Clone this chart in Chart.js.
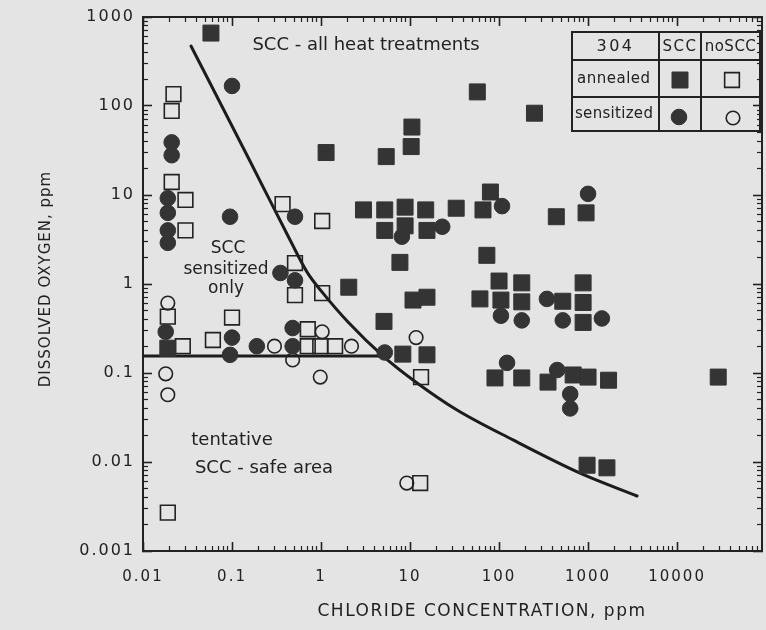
<!DOCTYPE html>
<html>
<head>
<meta charset="utf-8">
<title>Dissolved oxygen vs chloride - type 304 SCC</title>
<script src="https://cdn.jsdelivr.net/npm/chart.js@4/dist/chart.umd.min.js"></script>
<style>
  html, body { margin: 0; padding: 0; background: #e4e4e4; }
  canvas { display: block; }
</style>
</head>
<body>
<canvas id="chart" width="766" height="630"></canvas>
<script>
// ---- Specimen results: chloride (ppm) and dissolved oxygen (ppm) ----
// Annealed, cracked (SCC)
const annealedSccCl = [0.058, 1.14, 10.5, 10.3, 5.4, 57, 250, 3.0, 5.2, 8.8, 8.8, 15, 33, 66, 80, 5.2, 15.5,
  7.7, 73, 2.05, 10.8, 15.5, 5.1, 100, 180, 880, 61, 105, 180, 520, 880, 880, 0.019, 8.3, 15.5,
  90, 180, 355, 680, 1000, 1700, 29000, 975, 1630, 950, 440];
const annealedSccO2 = [660, 30, 58, 35, 27, 144, 83, 6.8, 6.8, 7.3, 4.5, 6.8, 7.1, 6.8, 10.8, 4.0, 4.0,
  1.75, 2.1, 0.92, 0.66, 0.71, 0.38, 1.08, 1.03, 1.03, 0.68, 0.66, 0.63, 0.64, 0.62, 0.37, 0.19, 0.163, 0.16,
  0.088, 0.088, 0.079, 0.095, 0.09, 0.083, 0.09, 0.0092, 0.0086, 6.3, 5.7];

// Sensitized, cracked (SCC)
const sensitizedSccCl = [0.1, 0.021, 0.021, 0.019, 0.019, 0.019, 0.019, 0.095, 0.51, 0.35, 0.51, 0.018,
  0.1, 0.095, 0.19, 0.48, 0.48, 5.2, 23, 8.1, 108, 1000, 345, 105, 180, 520, 1430, 123, 450, 630, 630];
const sensitizedSccO2 = [168, 39, 28, 9.2, 6.3, 4.0, 2.9, 5.7, 5.7, 1.33, 1.1, 0.29,
  0.25, 0.16, 0.2, 0.32, 0.2, 0.17, 4.4, 3.4, 7.5, 10.3, 0.68, 0.44, 0.39, 0.39, 0.41, 0.13, 0.108, 0.058, 0.04];

// Annealed, no cracking
const annealedNoSccCl = [0.022, 0.021, 0.021, 0.03, 0.03, 0.37, 1.03, 0.51, 0.51, 1.03, 0.019, 0.028,
  0.061, 0.1, 0.71, 0.71, 0.98, 1.44, 13.3, 13, 0.019];
const annealedNoSccO2 = [136, 88, 14, 8.8, 4.0, 7.9, 5.1, 1.72, 0.75, 0.79, 0.43, 0.2,
  0.235, 0.42, 0.31, 0.2, 0.2, 0.2, 0.09, 0.0058, 0.0027];

// Sensitized, no cracking
const sensitizedNoSccCl = [0.019, 0.018, 0.019, 0.3, 1.03, 2.2, 0.48, 0.98, 11.7, 9.2];
const sensitizedNoSccO2 = [0.61, 0.098, 0.057, 0.2, 0.29, 0.2, 0.14, 0.09, 0.25, 0.0058];

// Boundary of the "SCC - all heat treatments" region
const boundaryCurveCl = [0.0346, 0.159, 0.449, 0.697, 1.03, 2.01, 4.98, 12.0, 33.7, 143.5, 813, 3556];
const boundaryCurveO2 = [472, 24.1, 3.12, 1.36, 0.81, 0.374, 0.155, 0.0773, 0.0384, 0.0177, 0.0075, 0.00415];

// Upper limit of the tentative SCC-safe area
const safeLimitCl = [0.01, 4.98];
const safeLimitO2 = [0.155, 0.155];

// ---- Axes ----
const X_RANGE = [0.01, 90000];
const Y_RANGE = [0.001, 1000];
const X_TICK_VALUES = [0.01, 0.1, 1, 10, 100, 1000, 10000];
const X_TICK_LABELS = ['0.01', '0.1', '1', '10', '100', '1000', '10000'];
const Y_TICK_VALUES = [0.001, 0.01, 0.1, 1, 10, 100, 1000];
const Y_TICK_LABELS = ['0.001', '0.01', '0.1', '1', '10', '100', '1000'];
const X_TITLE = 'CHLORIDE CONCENTRATION, ppm';
const Y_TITLE = 'DISSOLVED OXYGEN, ppm';

// ---- Region notes and key table ----
const NOTE_ALL = 'SCC - all heat treatments';
const NOTE_SENSITIZED = ['SCC', 'sensitized', 'only'];
const NOTE_SAFE = ['tentative', 'SCC - safe area'];
const KEY_HEAD = ['304', 'SCC', 'noSCC'];
const KEY_ROWS = ['annealed', 'sensitized'];

// ---- Styling ----
const BG = '#e4e4e4';
const INK = '#222222';
const FILL = '#343434';
const FONT = 'DejaVu Sans';

const MARK = {
  annealedScc: { pointStyle: 'rect', radius: 11.3, backgroundColor: FILL, borderColor: FILL, borderWidth: 1 },
  sensitizedScc: { pointStyle: 'circle', radius: 7.8, backgroundColor: FILL, borderColor: FILL, borderWidth: 1 },
  annealedNoScc: { pointStyle: 'rect', radius: 10.4, backgroundColor: 'rgba(0,0,0,0)', borderColor: INK, borderWidth: 1.6 },
  sensitizedNoScc: { pointStyle: 'circle', radius: 6.8, backgroundColor: 'rgba(0,0,0,0)', borderColor: INK, borderWidth: 1.6 }
};

const zip = (xs, ys) => xs.map((x, i) => ({ x, y: ys[i] }));

function markerSet(label, xs, ys, m) {
  return {
    label,
    data: zip(xs, ys),
    pointStyle: m.pointStyle,
    pointRadius: m.radius,
    pointHoverRadius: m.radius,
    pointBackgroundColor: m.backgroundColor,
    pointBorderColor: m.borderColor,
    pointBorderWidth: m.borderWidth,
    showLine: false,
    order: 0
  };
}

function lineSet(label, xs, ys, smooth) {
  return {
    label,
    data: zip(xs, ys),
    showLine: true,
    borderColor: '#1c1c1c',
    borderWidth: 3,
    borderCapStyle: 'round',
    pointRadius: 0,
    pointHoverRadius: 0,
    fill: false,
    cubicInterpolationMode: smooth ? 'monotone' : 'default',
    tension: 0,
    order: 2
  };
}

// Minor log ticks (2..9 in every decade of the range)
function minorTicks(min, max) {
  const out = [];
  for (let e = Math.floor(Math.log10(min)); e <= Math.ceil(Math.log10(max)); e++) {
    for (let s = 2; s <= 9; s++) {
      const v = Number((s * Math.pow(10, e)).toPrecision(6));
      if (v > min && v < max) out.push(v);
    }
  }
  return out;
}

// Builds one logarithmic axis; the major axes carry decade ticks (and labels on bottom/left),
// the minor ones only short tick marks. Tick marks point into the plot.
function logAxis(axis, position, range, major, labels, fontSize, labelPad) {
  const horizontal = axis === 'x';
  const values = major ? (horizontal ? X_TICK_VALUES : Y_TICK_VALUES) : minorTicks(range[0], range[1]);
  const showLabels = major && (position === 'bottom' || position === 'left');
  return {
    type: 'logarithmic',
    axis,
    position,
    weight: major ? 0 : -1,
    min: range[0],
    max: range[1],
    afterBuildTicks: (scale) => {
      scale.ticks = values.map(v => ({ value: v, major }));
    },
    afterFit: (scale) => {
      if (horizontal) scale.height = showLabels ? 79 : 0;
      else scale.width = showLabels ? 143 : 0;
      // the frame is placed by the layout padding alone
      scale.paddingTop = 0;
      scale.paddingBottom = 0;
      scale.paddingLeft = 0;
      scale.paddingRight = 0;
    },
    ticks: {
      display: showLabels,
      autoSkip: false,
      maxRotation: 0,
      minRotation: 0,
      padding: labelPad || 0,
      color: INK,
      font: { family: FONT, size: fontSize || 15 },
      callback: (v) => {
        const i = (horizontal ? X_TICK_VALUES : Y_TICK_VALUES).indexOf(v);
        return i >= 0 && labels ? labels[i] : '';
      }
    },
    grid: {
      display: true,
      drawOnChartArea: false,
      drawTicks: true,
      tickLength: major ? -9 : -5,
      tickWidth: major ? 1.6 : 1.2,
      tickColor: INK
    },
    border: { display: true, color: INK, width: 2 }
  };
}

function drawText(ctx, str, x, y, size, spacing, align, angle) {
  ctx.save();
  ctx.translate(x, y);
  if (angle) ctx.rotate(angle);
  ctx.font = size + 'px "' + FONT + '"';
  ctx.letterSpacing = (spacing || 0) + 'px';
  ctx.fillStyle = INK;
  ctx.textAlign = align || 'center';
  ctx.textBaseline = 'middle';
  ctx.fillText(str, 0, 0);
  ctx.restore();
}

function drawMark(ctx, m, x, y) {
  ctx.save();
  ctx.fillStyle = m.backgroundColor;
  ctx.strokeStyle = m.borderColor;
  ctx.lineWidth = m.borderWidth;
  Chart.helpers.drawPoint(ctx, { pointStyle: m.pointStyle, radius: m.radius, rotation: 0, borderWidth: m.borderWidth }, x, y);
  ctx.restore();
}

const decorations = {
  id: 'decorations',
  beforeDraw(chart) {
    const ctx = chart.ctx;
    ctx.save();
    ctx.fillStyle = BG;
    ctx.fillRect(0, 0, chart.width, chart.height);
    ctx.restore();
    // wide lettering for the axis numbers
    ctx.letterSpacing = '2px';
  },
  beforeDatasetsDraw(chart) {
    chart.ctx.letterSpacing = '0px';
  },
  afterDraw(chart) {
    const ctx = chart.ctx;
    const a = chart.chartArea;

    // axis titles
    drawText(ctx, X_TITLE, 482, 612, 17, 1.5, 'center', 0);
    drawText(ctx, Y_TITLE, 46, 279, 15, 1, 'center', -Math.PI / 2);

    // region notes
    drawText(ctx, NOTE_ALL, 366, 45, 18, 0);
    drawText(ctx, NOTE_SENSITIZED[0], 228, 249, 17, 0);
    drawText(ctx, NOTE_SENSITIZED[1], 226, 270, 17, 0);
    drawText(ctx, NOTE_SENSITIZED[2], 226, 289, 17, 0);
    drawText(ctx, NOTE_SAFE[0], 232, 440, 18, 0);
    drawText(ctx, NOTE_SAFE[1], 264, 468, 18, 0);

    // key table
    const L = 572, T = 32, R = a.right - 2, B = 131;
    const c1 = 659, c2 = 701, r1 = 60, r2 = 97;
    ctx.save();
    ctx.strokeStyle = INK;
    ctx.lineWidth = 2;
    ctx.strokeRect(L, T, R - L, B - T);
    ctx.beginPath();
    ctx.moveTo(c1, T); ctx.lineTo(c1, B);
    ctx.moveTo(c2, T); ctx.lineTo(c2, B);
    ctx.moveTo(L, r1); ctx.lineTo(R, r1);
    ctx.moveTo(L, r2); ctx.lineTo(R, r2);
    ctx.stroke();
    ctx.restore();

    drawText(ctx, KEY_HEAD[0], (L + c1) / 2, 47, 16, 2.5);
    drawText(ctx, KEY_HEAD[1], (c1 + c2) / 2, 47, 15, 1.5);
    drawText(ctx, KEY_HEAD[2], (c2 + R) / 2, 47, 15, 0.5);
    drawText(ctx, KEY_ROWS[0], 577, 79, 15, 0.5, 'left');
    drawText(ctx, KEY_ROWS[1], 575, 114, 15, 0.3, 'left');

    drawMark(ctx, MARK.annealedScc, 680, 80);
    drawMark(ctx, MARK.annealedNoScc, 732, 80);
    drawMark(ctx, MARK.sensitizedScc, 679, 117);
    drawMark(ctx, MARK.sensitizedNoScc, 733, 118);
  }
};

new Chart(document.getElementById('chart'), {
  type: 'scatter',
  data: {
    datasets: [
      markerSet('annealed SCC', annealedSccCl, annealedSccO2, MARK.annealedScc),
      markerSet('sensitized SCC', sensitizedSccCl, sensitizedSccO2, MARK.sensitizedScc),
      markerSet('annealed no SCC', annealedNoSccCl, annealedNoSccO2, MARK.annealedNoScc),
      markerSet('sensitized no SCC', sensitizedNoSccCl, sensitizedNoSccO2, MARK.sensitizedNoScc),
      lineSet('SCC boundary', boundaryCurveCl, boundaryCurveO2, true),
      lineSet('SCC-safe limit', safeLimitCl, safeLimitO2, false)
    ]
  },
  options: {
    responsive: false,
    devicePixelRatio: 1,
    animation: false,
    events: [],
    layout: { autoPadding: false, padding: { left: 0, top: 17, right: 4, bottom: 0 } },
    scales: {
      x: logAxis('x', 'bottom', X_RANGE, true, X_TICK_LABELS, 15, 26),
      xMinor: logAxis('x', 'bottom', X_RANGE, false),
      xTop: logAxis('x', 'top', X_RANGE, true),
      xTopMinor: logAxis('x', 'top', X_RANGE, false),
      y: logAxis('y', 'left', Y_RANGE, true, Y_TICK_LABELS, 16, 17),
      yMinor: logAxis('y', 'left', Y_RANGE, false),
      yRight: logAxis('y', 'right', Y_RANGE, true),
      yRightMinor: logAxis('y', 'right', Y_RANGE, false)
    },
    plugins: {
      legend: { display: false },
      tooltip: { enabled: false },
      title: { display: false }
    }
  },
  plugins: [decorations]
});
</script>
</body>
</html>
